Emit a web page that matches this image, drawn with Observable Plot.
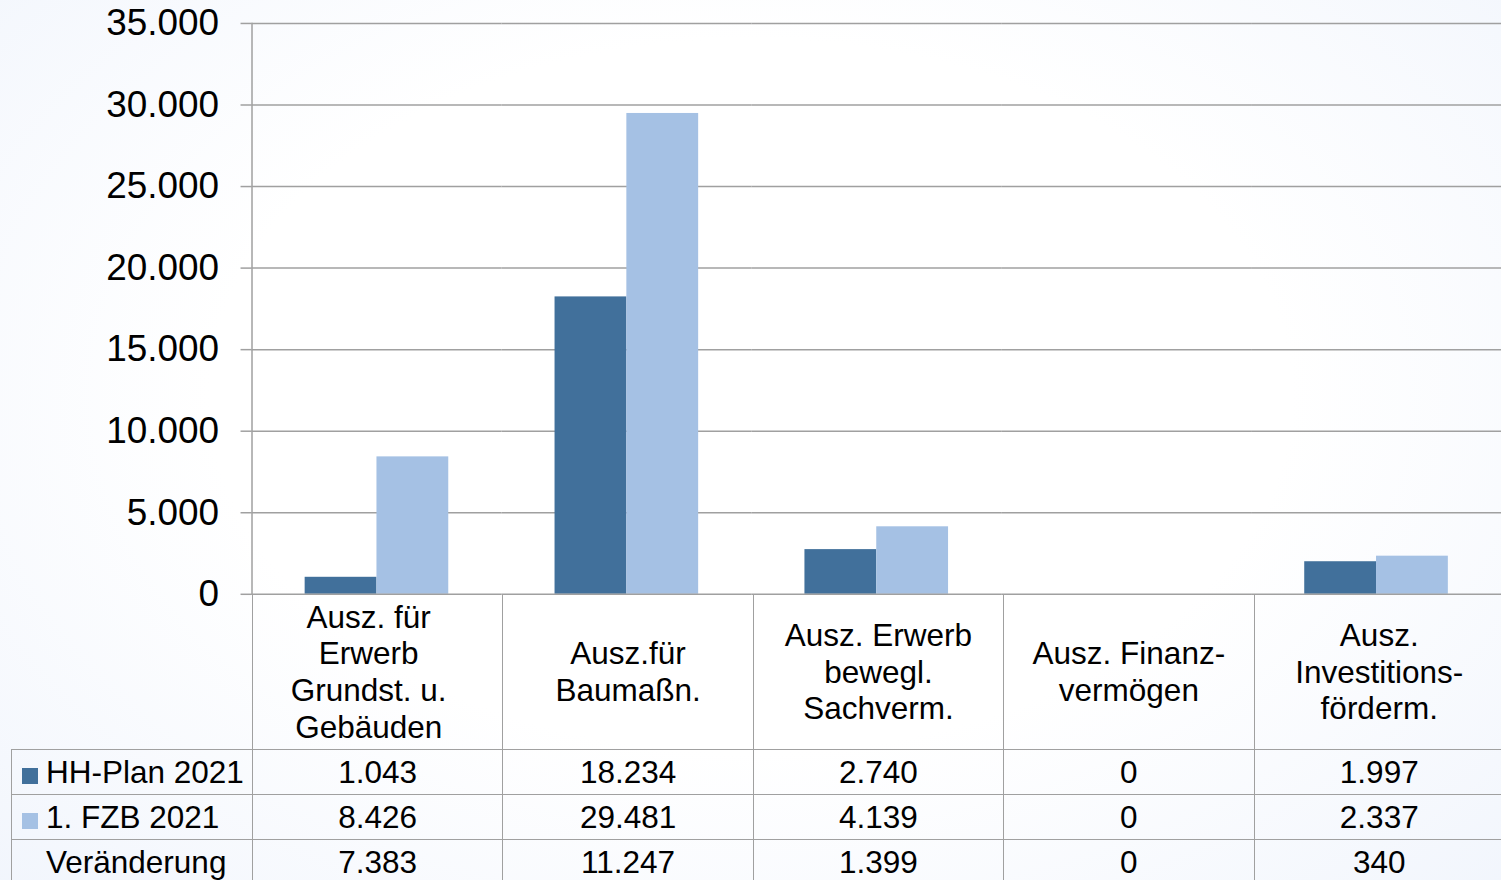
<!DOCTYPE html>
<html>
<head>
<meta charset="utf-8">
<script src="https://cdn.jsdelivr.net/npm/d3@7"></script>
<script src="https://cdn.jsdelivr.net/npm/@observablehq/plot@0.6"></script>
<style>
  html, body { margin: 0; padding: 0; width: 1501px; height: 880px; overflow: hidden; }
  body {
    background: radial-gradient(ellipse 80% 90% at 50% 45%, #ffffff 45%, #eef3fc 100%);
    font-family: "Liberation Sans", Arial, sans-serif;
  }
  #wrap { position: relative; width: 1501px; height: 880px; }
  #chart { position: absolute; left: 0; top: 0; }
  #tbl {
    position: absolute; left: 11px; top: 595px; width: 1493px;
    border-collapse: collapse; table-layout: fixed;
    font-family: "Liberation Sans", Arial, sans-serif; font-size: 31.5px; color: #000;
  }
  #tbl td { border: 1.5px solid #a0a0a0; padding: 0; text-align: center; vertical-align: middle; white-space: nowrap; }
  #tbl tr.head td { height: 154px; border-top: none; line-height: 36.7px; white-space: normal; }
  #tbl tr.head td.blank { border: none; border-right: 1.5px solid #a0a0a0; }
  #tbl tr.head td.first { padding-right: 18px; }
  #tbl tr.data td { height: 44px; line-height: 44px; }
  #tbl td.lab { text-align: left; padding-left: 10px; }
  .sw { display: inline-block; width: 16px; height: 16px; margin-right: 8px; vertical-align: -1px; }
  .sp { display: inline-block; width: 24px; }
</style>
</head>
<body>
<div id="wrap">
  <div id="chart"></div>
  <table id="tbl"></table>
</div>
<script>
// ---- data ----
const categories = [
  "Ausz. für\nErwerb\nGrundst. u.\nGebäuden",
  "Ausz.für\nBaumaßn.",
  "Ausz. Erwerb\nbewegl.\nSachverm.",
  "Ausz. Finanz-\nvermögen",
  "Ausz.\nInvestitions-\nförderm."
];
const seriesNames = ["HH-Plan 2021", "1. FZB 2021"];
const hhPlan = [1043, 18234, 2740, 0, 1997];
const fzb = [8426, 29481, 4139, 0, 2337];
const changeLabel = "Veränderung";
const change = [7383, 11247, 1399, 0, 340];
const yTicks = [0, 5000, 10000, 15000, 20000, 25000, 30000, 35000];
const colors = ["#41709b", "#a5c1e4"];

// ---- formatting ----
const de = d3.formatLocale({decimal: ",", thousands: ".", grouping: [3], currency: ["", " €"]});
const fmt = de.format(",d");

// ---- chart ----
const rows = categories.flatMap((c, i) => [
  {cat: c, series: seriesNames[0], value: hhPlan[i]},
  {cat: c, series: seriesNames[1], value: fzb[i]}
]);
const gridColor = "#a0a0a0";

const chart = Plot.plot({
  width: 1504,
  height: 596,
  marginTop: 23,
  marginBottom: 1,
  marginLeft: 252,
  marginRight: 0,
  style: {background: "transparent", fontFamily: "'Liberation Sans', Arial, sans-serif", overflow: "visible"},
  fx: {domain: categories, padding: 0, round: false, axis: null},
  x: {domain: seriesNames, paddingInner: 0, paddingOuter: 0.74, round: false, axis: null},
  y: {domain: [0, 35000], axis: null, label: null},
  color: {domain: seriesNames, range: colors},
  marks: [
    Plot.ruleY(yTicks.filter(d => d !== 0), {stroke: gridColor, strokeWidth: 1.5}),
    Plot.barY(rows, {fx: "cat", x: "series", y: "value", fill: "series"}),
    Plot.ruleY([0], {stroke: gridColor, strokeWidth: 1.5}),
    Plot.axisY({ticks: yTicks, tickSize: 11, tickPadding: 22, tickFormat: fmt, fontSize: 37, stroke: gridColor, strokeWidth: 1.5, fill: "#000", anchor: "left", label: null}),
    Plot.frame({anchor: "left", fx: categories[0], stroke: gridColor, strokeWidth: 1.5})
  ]
});
document.getElementById("chart").appendChild(chart);

// ---- data table ----
const tbl = document.getElementById("tbl");
const colgroup = document.createElement("colgroup");
const c0 = document.createElement("col"); c0.style.width = "241px"; colgroup.appendChild(c0);
categories.forEach(() => { const c = document.createElement("col"); c.style.width = "250.4px"; colgroup.appendChild(c); });
tbl.appendChild(colgroup);

const head = document.createElement("tr"); head.className = "head";
const blank = document.createElement("td"); blank.className = "blank"; head.appendChild(blank);
categories.forEach((c, i) => {
  const td = document.createElement("td");
  if (i === 0) td.className = "first";
  td.innerHTML = c.split("\n").map(s => s.replace(/&/g, "&amp;")).join("<br>");
  head.appendChild(td);
});
tbl.appendChild(head);

const tableRows = [
  {label: seriesNames[0], color: colors[0], values: hhPlan},
  {label: seriesNames[1], color: colors[1], values: fzb},
  {label: changeLabel, color: null, values: change}
];
tableRows.forEach(r => {
  const tr = document.createElement("tr"); tr.className = "data";
  const lab = document.createElement("td"); lab.className = "lab";
  if (r.color) {
    const sw = document.createElement("span"); sw.className = "sw"; sw.style.background = r.color; lab.appendChild(sw);
  } else {
    const sp = document.createElement("span"); sp.className = "sp"; lab.appendChild(sp);
  }
  lab.appendChild(document.createTextNode(r.label));
  tr.appendChild(lab);
  r.values.forEach(v => {
    const td = document.createElement("td"); td.textContent = fmt(v); tr.appendChild(td);
  });
  tbl.appendChild(tr);
});
</script>
</body>
</html>
